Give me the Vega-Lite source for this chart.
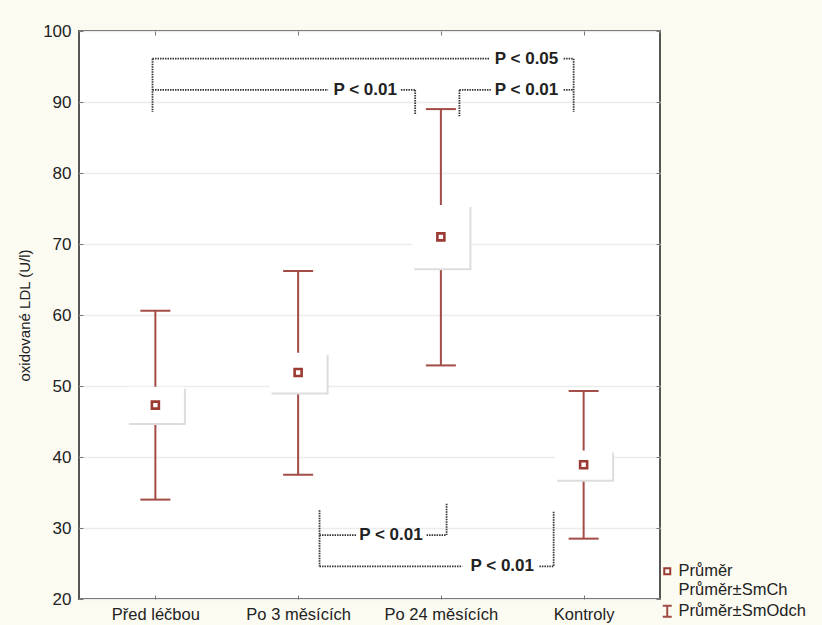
{
  "$schema": "https://vega.github.io/schema/vega-lite/v6.json",
  "width": 581,
  "height": 568,
  "autosize": {"type": "none"},
  "padding": {"left": 79, "top": 31, "right": 162, "bottom": 26},
  "background": "#fcfbf2",
  "config": {
    "font": "Liberation Sans",
    "view": {"fill": "white", "stroke": "#555555", "strokeWidth": 2},
    "axis": {
      "labelFont": "Liberation Sans",
      "titleFont": "Liberation Sans",
      "labelColor": "#222222",
      "titleColor": "#222222",
      "domain": false,
      "tickColor": "#777777",
      "tickSize": -4,
      "gridColor": "#ececec",
      "gridWidth": 1.5
    }
  },
  "datasets": {
    "groups": [
      {"cat": "Před léčbou", "pos": 1, "mean": 47.3, "seLo": 44.8, "seHi": 49.9, "sdLo": 34.0, "sdHi": 60.6},
      {"cat": "Po 3 měsících", "pos": 2, "mean": 51.9, "seLo": 49.1, "seHi": 54.7, "sdLo": 37.5, "sdHi": 66.2},
      {"cat": "Po 24 měsících", "pos": 3, "mean": 71.0, "seLo": 66.6, "seHi": 75.5, "sdLo": 52.9, "sdHi": 89.0},
      {"cat": "Kontroly", "pos": 4, "mean": 38.9, "seLo": 36.8, "seHi": 40.9, "sdLo": 28.5, "sdHi": 49.3}
    ],
    "brackets": [
      {"x": 0.98, "x2": 3.34, "y": 96.1, "y2": 96.1},
      {"x": 3.86, "x2": 3.93, "y": 96.1, "y2": 96.1},
      {"x": 0.98, "x2": 0.98, "y": 96.1, "y2": 88.6},
      {"x": 3.93, "x2": 3.93, "y": 96.1, "y2": 88.6},
      {"x": 0.98, "x2": 2.21, "y": 91.7, "y2": 91.7},
      {"x": 2.72, "x2": 2.82, "y": 91.7, "y2": 91.7},
      {"x": 2.82, "x2": 2.82, "y": 91.7, "y2": 88.2},
      {"x": 3.13, "x2": 3.35, "y": 91.7, "y2": 91.7},
      {"x": 3.86, "x2": 3.93, "y": 91.7, "y2": 91.7},
      {"x": 3.13, "x2": 3.13, "y": 91.7, "y2": 88.0},
      {"x": 2.15, "x2": 2.15, "y": 32.5, "y2": 24.6},
      {"x": 2.15, "x2": 2.41, "y": 29.0, "y2": 29.0},
      {"x": 2.90, "x2": 3.04, "y": 29.0, "y2": 29.0},
      {"x": 3.04, "x2": 3.04, "y": 33.4, "y2": 29.0},
      {"x": 2.15, "x2": 3.15, "y": 24.6, "y2": 24.6},
      {"x": 3.69, "x2": 3.79, "y": 24.6, "y2": 24.6},
      {"x": 3.79, "x2": 3.79, "y": 32.3, "y2": 24.6}
    ],
    "labels": [
      {"x": 3.60, "y": 96.1, "text": "P < 0.05"},
      {"x": 2.47, "y": 91.7, "text": "P < 0.01"},
      {"x": 3.60, "y": 91.7, "text": "P < 0.01"},
      {"x": 2.65, "y": 29.0, "text": "P < 0.01"},
      {"x": 3.43, "y": 24.6, "text": "P < 0.01"}
    ],
    "legend": [
      {"item": "Průměr", "pos": 0, "val": 0},
      {"item": "Průměr±SmCh", "pos": 0, "val": 0},
      {"item": "Průměr±SmOdch", "pos": 0, "val": 0}
    ]
  },
  "layer": [
    {
      "data": {"name": "groups"},
      "mark": {"type": "rule", "color": "#a34b45", "strokeWidth": 2},
      "encoding": {
        "x": {
          "field": "pos", "type": "quantitative",
          "scale": {"domain": [0.5, 4.5], "nice": false, "zero": false},
          "axis": {
            "orient": "bottom", "values": [1, 2, 3, 4], "title": null, "grid": false,
            "labelExpr": "['', 'Před léčbou', 'Po 3 měsících', 'Po 24 měsících', 'Kontroly'][datum.value]",
            "labelFontSize": 16.5, "labelPadding": 11
          }
        },
        "y": {
          "field": "sdLo", "type": "quantitative",
          "scale": {"domain": [20, 100], "nice": false, "zero": false},
          "axis": {
            "orient": "left", "values": [20, 30, 40, 50, 60, 70, 80, 90, 100],
            "title": "oxidované LDL (U/l)", "titleFontSize": 15, "titleFontWeight": "normal",
            "titlePadding": 10, "labelFontSize": 17, "labelPadding": 12, "grid": true
          }
        },
        "y2": {"field": "sdHi"}
      }
    },
    {
      "data": {"name": "groups"},
      "mark": {"type": "point", "shape": "M-1,0H1", "size": 900, "filled": false, "stroke": "#a34b45", "strokeWidth": 2, "opacity": 1},
      "encoding": {
        "x": {"field": "pos", "type": "quantitative", "axis": null},
        "y": {"field": "sdLo", "type": "quantitative", "axis": null}
      }
    },
    {
      "data": {"name": "groups"},
      "mark": {"type": "point", "shape": "M-1,0H1", "size": 900, "filled": false, "stroke": "#a34b45", "strokeWidth": 2, "opacity": 1},
      "encoding": {
        "x": {"field": "pos", "type": "quantitative", "axis": null},
        "y": {"field": "sdHi", "type": "quantitative", "axis": null}
      }
    },
    {
      "data": {"name": "groups"},
      "mark": {"type": "bar", "width": 57, "color": "#dddddd", "xOffset": 2, "yOffset": 2, "y2Offset": 2},
      "encoding": {
        "x": {"field": "pos", "type": "quantitative", "axis": null},
        "y": {"field": "seLo", "type": "quantitative", "axis": null},
        "y2": {"field": "seHi"}
      }
    },
    {
      "data": {"name": "groups"},
      "mark": {"type": "bar", "width": 57, "color": "#ffffff"},
      "encoding": {
        "x": {"field": "pos", "type": "quantitative", "axis": null},
        "y": {"field": "seLo", "type": "quantitative", "axis": null},
        "y2": {"field": "seHi"}
      }
    },
    {
      "data": {"name": "groups"},
      "mark": {"type": "point", "shape": "square", "size": 49, "filled": false, "fill": "white", "stroke": "#9b3a33", "strokeWidth": 2.6, "opacity": 1},
      "encoding": {
        "x": {"field": "pos", "type": "quantitative", "axis": {"orient": "top", "values": [1, 2, 3, 4], "labels": false, "title": null, "grid": false}},
        "y": {"field": "mean", "type": "quantitative", "axis": {"orient": "right", "values": [20, 30, 40, 50, 60, 70, 80, 90, 100], "labels": false, "title": null, "grid": false}}
      }
    },
    {
      "data": {"name": "brackets"},
      "mark": {"type": "rule", "color": "#333333", "strokeWidth": 1.8, "strokeDash": [1.5, 1]},
      "encoding": {
        "x": {"field": "x", "type": "quantitative", "axis": null},
        "x2": {"field": "x2"},
        "y": {"field": "y", "type": "quantitative", "axis": null},
        "y2": {"field": "y2"}
      }
    },
    {
      "data": {"name": "labels"},
      "mark": {"type": "text", "font": "Liberation Sans", "fontSize": 17, "fontWeight": "bold", "color": "#222222", "align": "center", "baseline": "middle"},
      "encoding": {
        "x": {"field": "x", "type": "quantitative", "axis": null},
        "y": {"field": "y", "type": "quantitative", "axis": null},
        "text": {"field": "text"}
      }
    },
    {
      "data": {"name": "legend"},
      "mark": {"type": "point", "filled": false, "strokeWidth": 2, "clip": true, "opacity": 1},
      "encoding": {
        "x": {"field": "pos", "type": "quantitative", "axis": null},
        "y": {"field": "val", "type": "quantitative", "axis": null},
        "shape": {
          "field": "item", "type": "nominal",
          "scale": {"domain": ["Průměr", "Průměr±SmCh", "Průměr±SmOdch"], "range": ["square", "square", "M-1.5,-1.8H1.5M0,-1.8V1.8M-1.5,1.8H1.5"]},
          "legend": {
            "title": null, "orient": "none", "legendX": 580, "legendY": 532, "padding": 0,
            "labelFont": "Liberation Sans", "labelFontSize": 16.5, "labelColor": "#222222",
            "labelOffset": 3, "rowPadding": 2, "symbolStrokeWidth": 2
          }
        },
        "stroke": {
          "field": "item", "type": "nominal",
          "scale": {"domain": ["Průměr", "Průměr±SmCh", "Průměr±SmOdch"], "range": ["#9b3a33", "transparent", "#a34b45"]}
        },
        "size": {
          "field": "item", "type": "nominal",
          "scale": {"domain": ["Průměr", "Průměr±SmCh", "Průměr±SmOdch"], "range": [36, 36, 36]}
        }
      }
    }
  ]
}
